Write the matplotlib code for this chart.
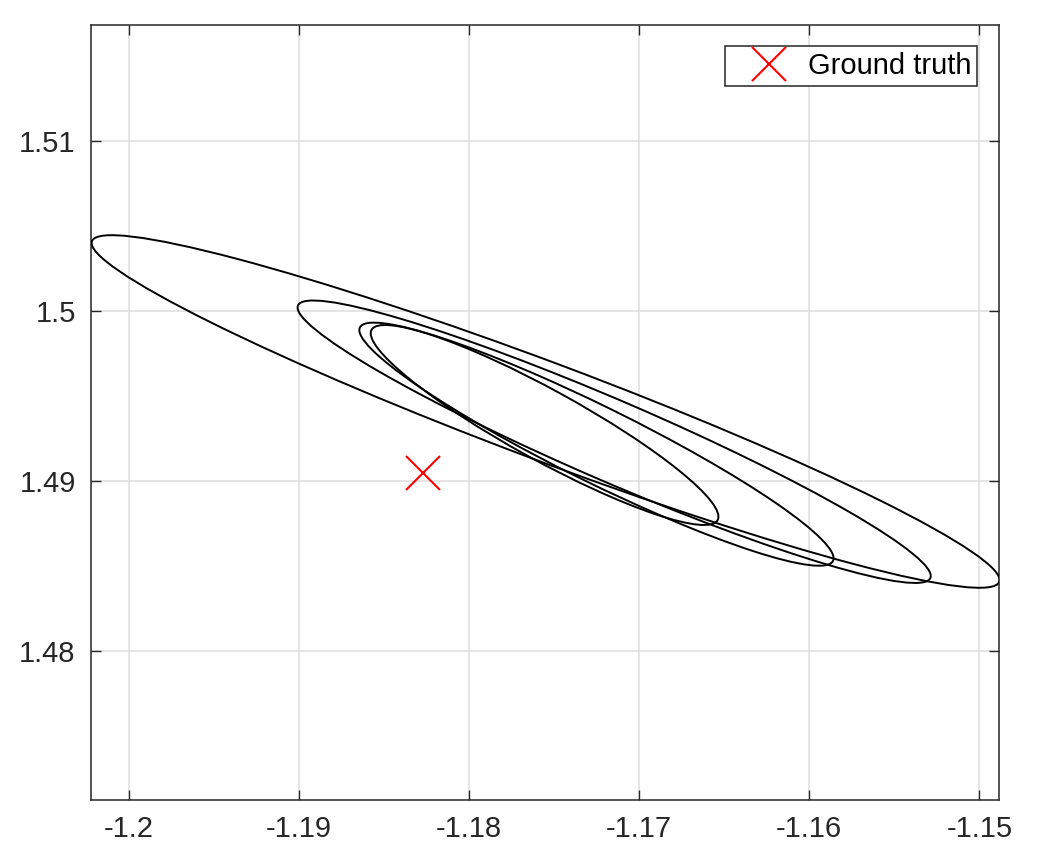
import numpy as np
import matplotlib
matplotlib.use("Agg")
import matplotlib.pyplot as plt
from matplotlib.patches import Ellipse

plt.rcParams['font.family'] = ['Liberation Sans', 'DejaVu Sans']

# ellipses: centre, full width/height (data units), angle in degrees
ell_cx = [-1.17550, -1.17147, -1.17251, -1.17556]
ell_cy = [1.494088, 1.492309, 1.492165, 1.493294]
ell_w = [0.056971, 0.040482, 0.031014, 0.023217]
ell_h = [0.005728, 0.004757, 0.004440, 0.004140]
ell_ang = [-20.59, -23.33, -26.29, -28.82]

# ground truth point
gt_x = [-1.18268]
gt_y = [1.49045]

xticks = [-1.2, -1.19, -1.18, -1.17, -1.16, -1.15]
yticks = [1.48, 1.49, 1.5, 1.51]
xlim = (-1.20222, -1.14883)
ylim = (1.471235, 1.516824)

fig = plt.figure(figsize=(10.4, 8.58), dpi=100)
ax = fig.add_axes([0.0875, 0.0676, 0.8734, 0.9033])

for cx, cy, w, h, a in zip(ell_cx, ell_cy, ell_w, ell_h, ell_ang):
    e = Ellipse((cx, cy), w, h, angle=a, fill=False, edgecolor='black', lw=1.4, zorder=3)
    ax.add_patch(e)

ax.plot(gt_x, gt_y, 'x', color='red', markersize=24, mew=1.5, linestyle='none',
        label='Ground truth', zorder=4)

ax.set_xlim(*xlim)
ax.set_ylim(*ylim)
ax.set_xticks(xticks)
ax.set_yticks(yticks)
ax.set_xticklabels(['-1.2', '-1.19', '-1.18', '-1.17', '-1.16', '-1.15'])
ax.set_yticklabels(['1.48', '1.49', '1.5', '1.51'])

ax.grid(True, color='#dedede', lw=1.1, zorder=0)
ax.set_axisbelow(True)
ax.tick_params(direction='in', length=7, width=1.0, top=True, right=True,
               labelsize=21, colors='#262626', pad=11)
for s in ax.spines.values():
    s.set_color('#262626')
    s.set_linewidth(1.1)

leg = ax.legend(loc='upper right', bbox_to_anchor=(0.9758, 0.9729), fontsize=21,
                handlelength=2.65, handletextpad=0.0, borderpad=0.2, borderaxespad=0,
                fancybox=False, framealpha=1, edgecolor='#262626')
leg.get_frame().set_linewidth(1.1)

fig.savefig('out.png', dpi=100)
